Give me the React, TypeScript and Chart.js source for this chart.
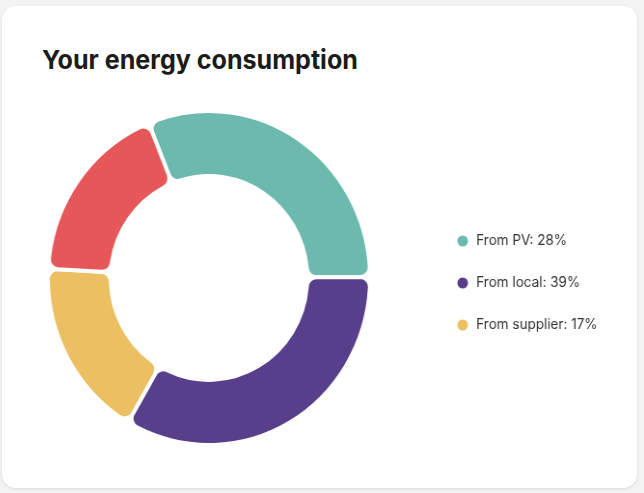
import React, { useEffect, useRef } from 'react';
import { Chart, registerables } from 'chart.js';

Chart.register(...registerables);

// ---- data ----
const categories = ['From PV', 'From local', 'From supplier', 'Other'];
const sharePercents = [28, 39, 17, 16];
const values = [31, 33.5, 17.5, 18];
const colors = ['#6cbaae', '#573f8c', '#ecc062', '#e6575a'];
const legendCount = 3;
const titleText = 'Your energy consumption';

// ---- layout constants ----
const CANVAS_W = 680;
const CANVAS_H = 338;
const CHART_AREA_W = 451;
const SQUEEZE = 0.965;
const LEGEND_FONT = 14;
const LEGEND_PAD = 28;
const LEGEND_BOX_W = 19;

export default function App() {
  const canvasRef = useRef<HTMLCanvasElement | null>(null);

  useEffect(() => {
    const canvas = canvasRef.current;
    if (!canvas) return;
    const labels = categories.map((c, i) => `${c}: ${sharePercents[i]}%`);
    const mctx = document.createElement('canvas').getContext('2d')!;
    mctx.font = `${LEGEND_FONT}px Inter`;
    const textW = Math.max(...labels.slice(0, legendCount).map((t) => mctx.measureText(t).width));
    const legendW = LEGEND_PAD + LEGEND_BOX_W + LEGEND_FONT / 2 + textW + 10;
    const padRight = Math.max(0, CANVAS_W - CHART_AREA_W - legendW);

    const baseGen = (Chart as any).overrides.doughnut.plugins.legend.labels.generateLabels;
    const chart = new Chart(canvas, {
      type: 'doughnut',
      data: {
        labels,
        datasets: [
          {
            data: values,
            backgroundColor: colors,
            borderColor: '#ffffff',
            borderWidth: 4,
            borderRadius: 10,
            hoverOffset: 0,
          },
        ],
      },
      options: {
        responsive: false,
        animation: false,
        cutout: '61%',
        rotation: -22,
        layout: { padding: { right: padRight } },
        plugins: {
          tooltip: { enabled: false },
          legend: {
            position: 'right',
            title: {
              display: true,
              text: '',
              font: { size: 10, lineHeight: 1 },
              padding: 0,
            },
            labels: {
              usePointStyle: true,
              pointStyle: 'circle',
              boxWidth: LEGEND_BOX_W,
              boxHeight: 7.8,
              padding: LEGEND_PAD,
              color: '#333333',
              font: { family: 'Inter', size: LEGEND_FONT },
              filter: (item: any) => item.index < legendCount,
              generateLabels: (ch: any) =>
                baseGen(ch).map((l: any) => ({ ...l, lineWidth: 0, strokeStyle: 'rgba(0,0,0,0)' })),
            },
          },
        },
      } as any,
    });
    return () => chart.destroy();
  }, []);

  return (
    <div
      style={{
        position: 'fixed',
        left: 0,
        top: 0,
        width: 644,
        height: 493,
        background: '#f3f3f3',
        overflow: 'hidden',
      }}
    >
      <div
        style={{
          position: 'absolute',
          left: 2,
          top: 6,
          width: 635,
          height: 482,
          background: '#ffffff',
          borderRadius: 14,
          boxShadow: '0 1px 3px rgba(0,0,0,0.10)',
        }}
      />
      <div
        style={{
          position: 'absolute',
          left: 42,
          top: 44,
          fontFamily: 'Inter, sans-serif',
          fontWeight: 700,
          fontSize: 26,
          lineHeight: '32px',
          color: '#1b1b1b',
          whiteSpace: 'nowrap',
          transform: `scaleX(${SQUEEZE})`,
          transformOrigin: 'left center',
        }}
      >
        {titleText}
      </div>
      <canvas
        ref={canvasRef}
        width={CANVAS_W}
        height={CANVAS_H}
        style={{
          position: 'absolute',
          left: -11,
          top: 109,
          width: CANVAS_W * SQUEEZE,
          height: CANVAS_H,
        }}
      />
    </div>
  );
}
